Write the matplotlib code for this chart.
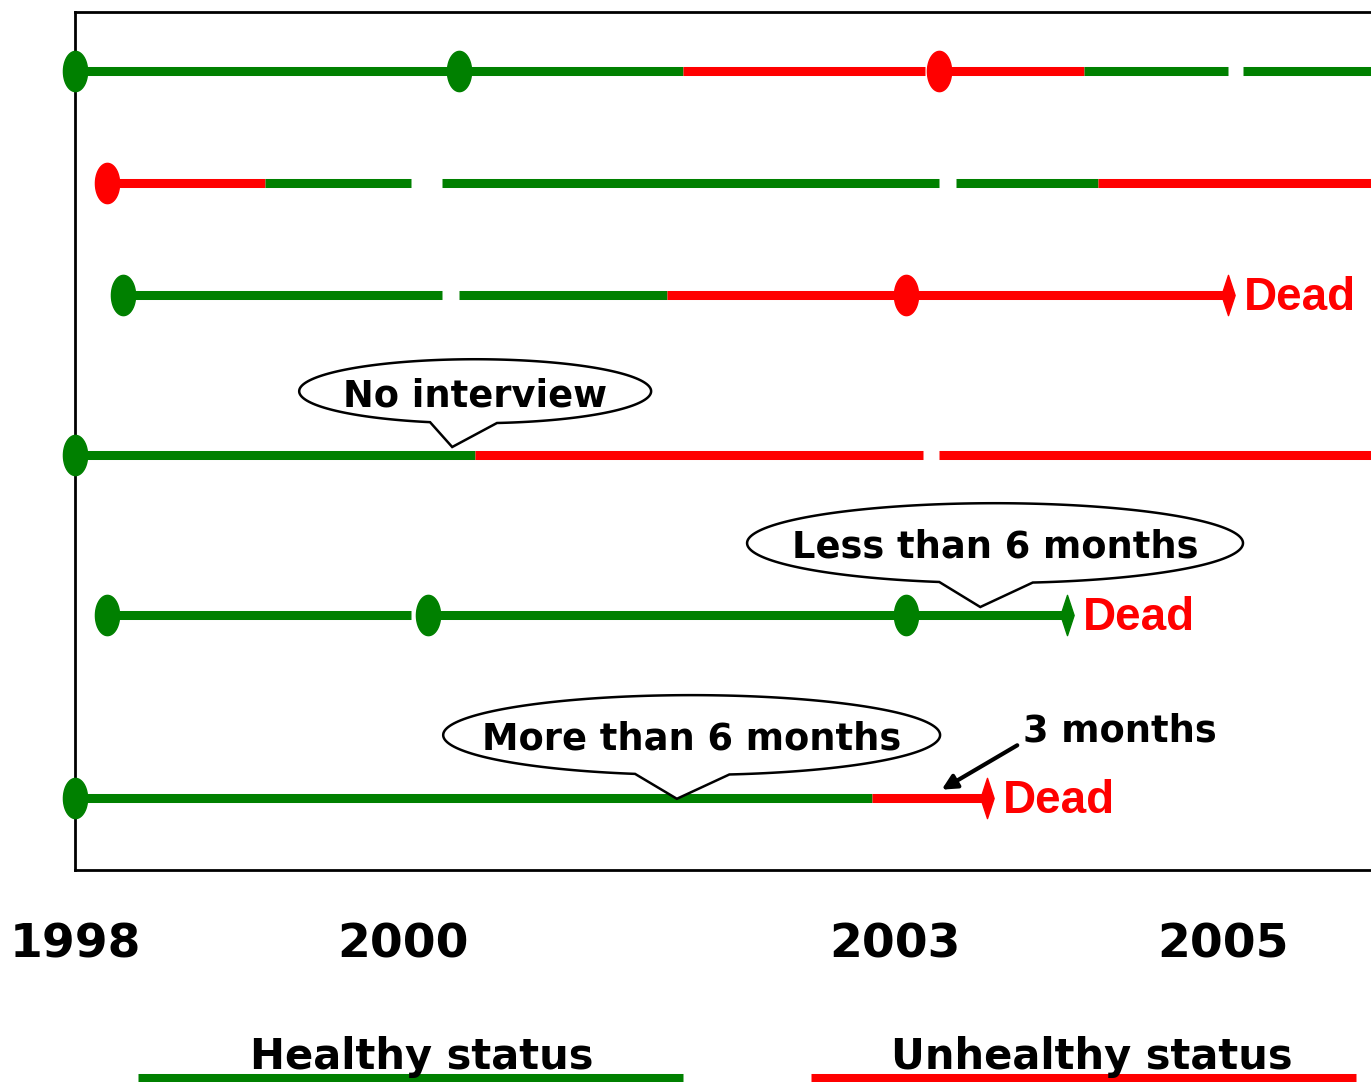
import numpy as np
import matplotlib.pyplot as plt
from matplotlib.path import Path
from matplotlib.patches import Polygon

# ----------------------------------------------------------------
# Data: one timeline per subject, segments are (start, end, status)
# ----------------------------------------------------------------
row_y = [9.31, 8.01, 6.70, 4.84, 2.97, 0.84]

segments = [
  [(1998.00, 2001.71, 'H'), (2001.71, 2003.18, 'U'), (2003.27, 2004.15, 'U'),
   (2004.15, 2005.03, 'H'), (2005.12, 2006.00, 'H')],
  [(1998.195, 1999.16, 'U'), (1999.16, 2000.05, 'H'), (2000.24, 2003.27, 'H'),
   (2003.37, 2004.24, 'H'), (2004.24, 2006.00, 'U')],
  [(1998.29, 2000.24, 'H'), (2000.34, 2001.61, 'H'), (2001.61, 2005.03, 'U')],
  [(1998.00, 2000.44, 'H'), (2000.44, 2003.17, 'U'), (2003.27, 2006.00, 'U')],
  [(1998.195, 2000.05, 'H'), (2000.15, 2004.05, 'H')],
  [(1998.00, 2002.86, 'H'), (2002.86, 2003.56, 'U')],
]

# interviews (year, status) for each row
visits = [
  [(1998.00, 'H'), (2000.34, 'H'), (2003.27, 'U')],
  [(1998.195, 'U')],
  [(1998.29, 'H'), (2003.07, 'U')],
  [(1998.00, 'H')],
  [(1998.195, 'H'), (2000.15, 'H'), (2003.07, 'H')],
  [(1998.00, 'H')],
]

# deaths (row index, year, status)
deaths = [(2, 2005.03, 'U'), (4, 2004.05, 'H'), (5, 2003.56, 'U')]

year_ticks = [1998, 2000, 2003, 2005]

colors = {'H': '#008000', 'U': '#ff0000'}


# ----------------------------------------------------------------
# Marker shapes
# ----------------------------------------------------------------
theta = np.linspace(0, 2 * np.pi, 60)
oval_marker = Path(np.column_stack([0.6 * np.cos(theta), np.sin(theta)]))
death_marker = Path([(-0.33, 0), (0, 1), (0.33, 0), (0, -1), (-0.33, 0)])


# ----------------------------------------------------------------
# Speech bubble: an ellipse with a pointer towards (tipx, tipy)
# ----------------------------------------------------------------
def add_bubble(axx, cx, cy, w, h, xl, xr, tip, text):
  a, b = w / 2, h / 2
  tl = 2 * np.pi - np.arccos((xl - cx) / a)
  tr = 2 * np.pi - np.arccos((xr - cx) / a)
  tt = np.linspace(tr, tl + 2 * np.pi, 200)
  verts = np.column_stack([cx + a * np.cos(tt), cy + b * np.sin(tt)])
  verts = np.vstack([verts, [tip]])
  axx.add_patch(Polygon(verts, closed=True, facecolor='white', edgecolor='black',
                        lw=1.8, zorder=5, clip_on=False))
  axx.text(cx, cy - 0.05, text, ha='center', va='center', fontsize=26.5,
           fontweight='bold', zorder=6)


fig = plt.figure(figsize=(13.71, 10.82), dpi=100)
axx = fig.add_axes([75 / 1371, 212 / 1082, 1296 / 1371, 858 / 1082])
axx.set_xlim(1998, 1998 + 1296 / 164)
axx.set_ylim(0, 10)

for i, row in enumerate(segments):
  for x0, x1, st in row:
    axx.plot([x0, x1], [row_y[i], row_y[i]], color=colors[st], lw=6.5,
             solid_capstyle='butt', zorder=2)

for i, row in enumerate(visits):
  for x, st in row:
    axx.plot(x, row_y[i], marker=oval_marker, markersize=29, color=colors[st],
             lw=0, zorder=3, clip_on=False)

for i, x, st in deaths:
  axx.plot(x, row_y[i], marker=death_marker, markersize=29, color=colors[st],
           lw=0, zorder=3)
  axx.annotate('Dead', xy=(x, row_y[i]), xytext=(11.5, -2), textcoords='offset points',
               ha='left', va='center', color='#ff0000', fontsize=33,
               fontweight='bold', family='Liberation Sans', zorder=4)

# call-outs
add_bubble(axx, 2000.44, 5.58, 2.146, 0.746, 2000.165, 2000.573, (2000.30, 4.93), 'No interview')
add_bubble(axx, 2003.61, 3.81, 3.024, 0.93, 2003.27, 2003.84, (2003.52, 3.065), 'Less than 6 months')
add_bubble(axx, 2001.76, 1.573, 3.03, 0.93, 2001.415, 2001.99, (2001.67, 0.83), 'More than 6 months')

axx.text(2004.37, 1.62, '3 months', ha='center', va='center', fontsize=26.5, fontweight='bold')
axx.annotate('', xy=(2003.27, 0.92), xytext=(2003.76, 1.47),
             arrowprops=dict(arrowstyle='-|>', lw=3, color='black', mutation_scale=22))

# axes frame
for side in ['left', 'top', 'bottom']:
  axx.spines[side].set_linewidth(2)
axx.spines['right'].set_visible(False)
axx.set_yticks([])
axx.set_xticks(year_ticks)
axx.set_xticklabels([str(y) for y in year_ticks], fontsize=34, fontweight='bold')
axx.tick_params(axis='x', length=0, pad=38)

# legend drawn under the chart
fig.add_artist(plt.Line2D([138 / 1371, 683 / 1371], [4.5 / 1082, 4.5 / 1082],
                          color=colors['H'], lw=6.5, solid_capstyle='butt'))
fig.add_artist(plt.Line2D([811 / 1371, 1356 / 1371], [4.5 / 1082, 4.5 / 1082],
                          color=colors['U'], lw=6.5, solid_capstyle='butt'))
fig.text(422 / 1371, 13 / 1082, 'Healthy status', ha='center', va='baseline',
         fontsize=30, fontweight='bold')
fig.text(1092 / 1371, 13 / 1082, 'Unhealthy status', ha='center', va='baseline',
         fontsize=30, fontweight='bold')

fig.savefig('out.png', dpi=100)
